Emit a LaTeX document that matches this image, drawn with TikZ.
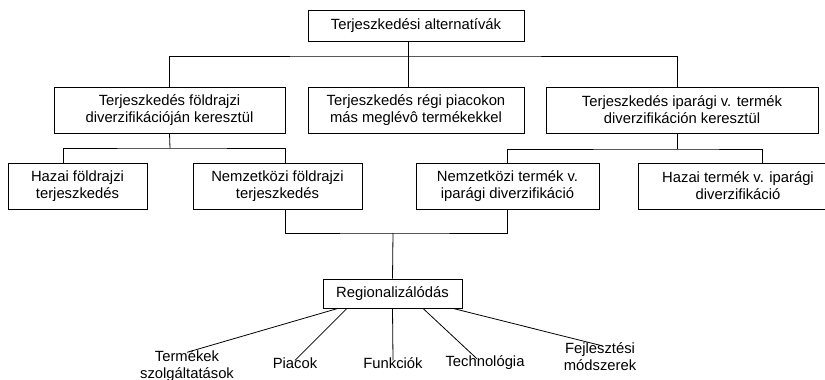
\documentclass[tikz,border=0pt]{standalone}
\usepackage{fontspec}
\setmainfont{Liberation Sans}
\begin{document}
\begin{tikzpicture}[x=1pt,y=-1pt,
  txt/.style={font=\fontsize{14.8}{17}\selectfont, align=center, inner sep=0pt},
  box/.style={txt, draw, line width=0.8pt},
  conn/.style={line width=0.8pt}]
\useasboundingbox (0,0) rectangle (825,380);
% boxes
\node[box, minimum width=216pt, minimum height=31pt] (top) at (416,25.5) {Terjeszkedési alternatívák};
\node[box, minimum width=231pt, minimum height=46pt] (geo) at (169.5,110) {Terjeszkedés földrajzi\\diverzifikációján keresztül};
\node[box, minimum width=216pt, minimum height=46pt] (old) at (416,110) {Terjeszkedés régi piacokon\\más meglévô termékekkel};
\node[box, minimum width=272pt, minimum height=46pt] (ind) at (682,110) {Terjeszkedés iparági v. termék\\diverzifikáción keresztül};
\node[box, minimum width=139pt, minimum height=46pt] (hgeo) at (77.5,186) {Hazai földrajzi\\terjeszkedés};
\node[box, minimum width=169pt, minimum height=46pt] (ngeo) at (277.5,186) {Nemzetközi földrajzi\\terjeszkedés};
\node[box, minimum width=183pt, minimum height=46pt] (nind) at (507.5,186) {Nemzetközi termék v.\\iparági diverzifikáció};
\node[box, minimum width=200pt, minimum height=46pt] (hind) at (738,186) {Hazai termék v. iparági\\diverzifikáció};
\node[box, minimum width=139pt, minimum height=29pt] (reg) at (392.5,293.5) {Regionalizálódás};
% leaves
\node[txt] (prod) at (187,366) {Termékek\\szolgáltatások};
\node[txt] (mkt) at (295,363) {Piacok};
\node[txt] (fun) at (393,363) {Funkciók};
\node[txt] (tech) at (485,363) {Technológia};
\node[txt] (dev) at (600,357) {Fejlesztési\\módszerek};
% bus coordinates
\coordinate (b1) at (408,56);
\coordinate (b2) at (170,148);
\coordinate (b3) at (677,149);
\coordinate (b4) at (393,233);
% connectors
\draw[conn] ([xshift=-8pt]top.south) -- ([xshift=-8pt]old.north);
\draw[conn] (geo.north) |- (b1) -| ([xshift=-5pt]ind.north);
\draw[conn] (geo.south) -- (b2);
\draw[conn] ([xshift=-14.5pt]hgeo.north) |- (b2) -| ([xshift=7.5pt]ngeo.north);
\draw[conn] ([xshift=-5pt]ind.south) -- (b3);
\draw[conn] (nind.north) |- (b3) -| ([xshift=24pt]hind.north);
\draw[conn] ([xshift=7.5pt]ngeo.south) |- (b4) -| (nind.south);
\draw[conn] (b4) -- (reg.north);
\draw[conn] ([xshift=-54.5pt]reg.south) -- ([yshift=-2pt]prod.north);
\draw[conn] ([xshift=-45.5pt]reg.south) -- ([yshift=-3pt]mkt.north);
\draw[conn] (reg.south) -- ([yshift=-3pt]fun.north);
\draw[conn] ([xshift=30.5pt]reg.south) -- ([yshift=-3pt,xshift=-8pt]tech.north);
\draw[conn] ([xshift=60.5pt]reg.south) -- ([yshift=-3pt,xshift=2pt]dev.north);
\end{tikzpicture}
\end{document}
